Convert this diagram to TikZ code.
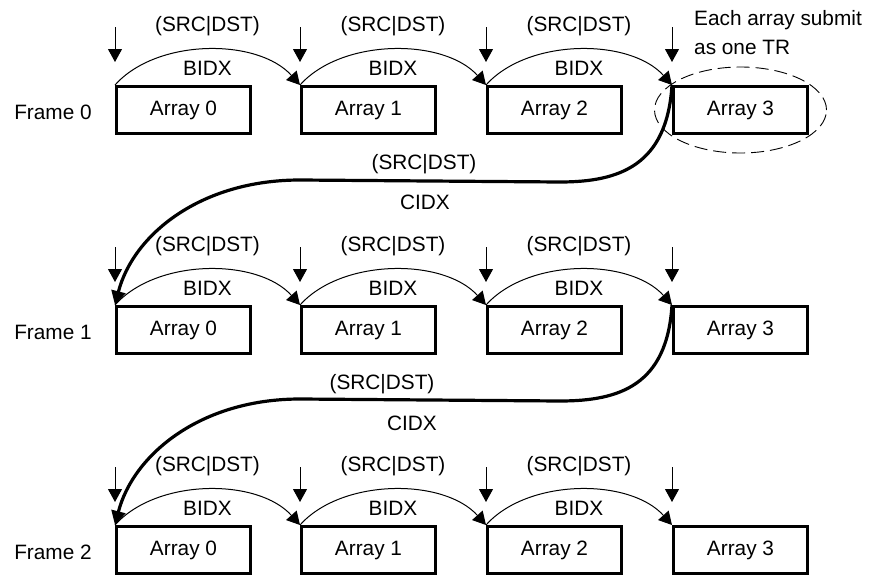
\documentclass[tikz,border=0pt]{standalone}
\usepackage{fontspec}
\setmainfont{Liberation Sans}
\usetikzlibrary{arrows.meta,calc}

\tikzset{
	arraybox/.style={draw, line width=3pt, minimum width=134pt, minimum height=47pt, inner sep=0pt},
	bidxarc/.style={line width=1pt, -{Triangle[length=13pt,width=14pt]}},
	cidxarc/.style={line width=3.2pt, -{Triangle[length=14pt,width=14pt]}},
	droparrow/.style={line width=1pt, -{Triangle[length=13pt,width=14pt]}},
	txt/.style={inner sep=0pt, anchor=base},
}

\begin{document}
\begin{tikzpicture}[x=1pt, y=-1pt, font=\fontsize{20.8}{24}\selectfont]
			%%%%% START %%%%%
			\useasboundingbox (0,0) rectangle (871,576);
			
			% frame 0
			\node[txt] (f0) at (53, 119) {Frame 0};
			\node[arraybox] (a00) at (183.5, 110) {Array 0};
			\node[arraybox] (a01) at (368.5, 110) {Array 1};
			\node[arraybox] (a02) at (554.5, 110) {Array 2};
			\node[arraybox] (a03) at (740.5, 110) {Array 3};
			
			% frame 1
			\node[txt] (f1) at (53, 339) {Frame 1};
			\node[arraybox] (a10) at (183.5, 330) {Array 0};
			\node[arraybox] (a11) at (368.5, 330) {Array 1};
			\node[arraybox] (a12) at (554.5, 330) {Array 2};
			\node[arraybox] (a13) at (740.5, 330) {Array 3};
			
			% frame 2
			\node[txt] (f2) at (53, 559) {Frame 2};
			\node[arraybox] (a20) at (183.5, 550) {Array 0};
			\node[arraybox] (a21) at (368.5, 550) {Array 1};
			\node[arraybox] (a22) at (554.5, 550) {Array 2};
			\node[arraybox] (a23) at (740.5, 550) {Array 3};
			
			% one TR
			\draw[line width=0.9pt, dash pattern=on 13pt off 6pt] (a03.center) ellipse [x radius=86pt, y radius=43pt];
			\node[txt, anchor=base west] (note1) at (694, 25) {Each array submit};
			\node[txt, anchor=base west] (note2) at (694, 54) {as one TR};
			
			% drop arrows
			\draw[droparrow] ($(a00.north west)+(0,-58)$) -- ($(a00.north west)+(0,-23)$);
			\draw[droparrow] ($(a01.north west)+(0,-58)$) -- ($(a01.north west)+(0,-23)$);
			\draw[droparrow] ($(a02.north west)+(0,-58)$) -- ($(a02.north west)+(0,-23)$);
			\draw[droparrow] ($(a03.north west)+(0,-58)$) -- ($(a03.north west)+(0,-23)$);
			\draw[droparrow] ($(a10.north west)+(0,-58)$) -- ($(a10.north west)+(0,-23)$);
			\draw[droparrow] ($(a11.north west)+(0,-58)$) -- ($(a11.north west)+(0,-23)$);
			\draw[droparrow] ($(a12.north west)+(0,-58)$) -- ($(a12.north west)+(0,-23)$);
			\draw[droparrow] ($(a13.north west)+(0,-58)$) -- ($(a13.north west)+(0,-23)$);
			\draw[droparrow] ($(a20.north west)+(0,-58)$) -- ($(a20.north west)+(0,-23)$);
			\draw[droparrow] ($(a21.north west)+(0,-58)$) -- ($(a21.north west)+(0,-23)$);
			\draw[droparrow] ($(a22.north west)+(0,-58)$) -- ($(a22.north west)+(0,-23)$);
			\draw[droparrow] ($(a23.north west)+(0,-58)$) -- ($(a23.north west)+(0,-23)$);
			
			% BIDX arcs, frame 0
			\draw[bidxarc] (a00.north west) .. controls +(42,-47) and +(-42,-47) .. (a01.north west);
			\draw[bidxarc] (a01.north west) .. controls +(42,-47) and +(-42,-47) .. (a02.north west);
			\draw[bidxarc] (a02.north west) .. controls +(42,-47) and +(-42,-47) .. (a03.north west);
			\node[txt] at ($(a00.north west)!0.5!(a01.north west)+(0,-54)$) {(SRC|DST)};
			\node[txt] at ($(a00.north west)!0.5!(a01.north west)+(0,-10)$) {BIDX};
			\node[txt] at ($(a01.north west)!0.5!(a02.north west)+(0,-54)$) {(SRC|DST)};
			\node[txt] at ($(a01.north west)!0.5!(a02.north west)+(0,-10)$) {BIDX};
			\node[txt] at ($(a02.north west)!0.5!(a03.north west)+(0,-54)$) {(SRC|DST)};
			\node[txt] at ($(a02.north west)!0.5!(a03.north west)+(0,-10)$) {BIDX};
			
			% BIDX arcs, frame 1
			\draw[bidxarc] (a10.north west) .. controls +(42,-47) and +(-42,-47) .. (a11.north west);
			\draw[bidxarc] (a11.north west) .. controls +(42,-47) and +(-42,-47) .. (a12.north west);
			\draw[bidxarc] (a12.north west) .. controls +(42,-47) and +(-42,-47) .. (a13.north west);
			\node[txt] at ($(a10.north west)!0.5!(a11.north west)+(0,-54)$) {(SRC|DST)};
			\node[txt] at ($(a10.north west)!0.5!(a11.north west)+(0,-10)$) {BIDX};
			\node[txt] at ($(a11.north west)!0.5!(a12.north west)+(0,-54)$) {(SRC|DST)};
			\node[txt] at ($(a11.north west)!0.5!(a12.north west)+(0,-10)$) {BIDX};
			\node[txt] at ($(a12.north west)!0.5!(a13.north west)+(0,-54)$) {(SRC|DST)};
			\node[txt] at ($(a12.north west)!0.5!(a13.north west)+(0,-10)$) {BIDX};
			
			% BIDX arcs, frame 2
			\draw[bidxarc] (a20.north west) .. controls +(42,-47) and +(-42,-47) .. (a21.north west);
			\draw[bidxarc] (a21.north west) .. controls +(42,-47) and +(-42,-47) .. (a22.north west);
			\draw[bidxarc] (a22.north west) .. controls +(42,-47) and +(-42,-47) .. (a23.north west);
			\node[txt] at ($(a20.north west)!0.5!(a21.north west)+(0,-54)$) {(SRC|DST)};
			\node[txt] at ($(a20.north west)!0.5!(a21.north west)+(0,-10)$) {BIDX};
			\node[txt] at ($(a21.north west)!0.5!(a22.north west)+(0,-54)$) {(SRC|DST)};
			\node[txt] at ($(a21.north west)!0.5!(a22.north west)+(0,-10)$) {BIDX};
			\node[txt] at ($(a22.north west)!0.5!(a23.north west)+(0,-54)$) {(SRC|DST)};
			\node[txt] at ($(a22.north west)!0.5!(a23.north west)+(0,-10)$) {BIDX};
			
			% CIDX, frame 0 to frame 1
			\coordinate (c0a) at (560, 182);
			\coordinate (c0b) at (300, 180);
			\draw[cidxarc] (a03.north west) .. controls +(-5,80) and +(60,0) .. (c0a) -- (c0b) .. controls +(-100,0) and +(18,-70) .. (a10.north west);
			\node[txt] at (424, 169) {(SRC|DST)};
			\node[txt] at (425, 209) {CIDX};
			
			% CIDX, frame 1 to frame 2
			\coordinate (c1a) at (560, 401);
			\coordinate (c1b) at (300, 399);
			\draw[cidxarc] (a13.north west) .. controls +(-5,80) and +(60,0) .. (c1a) -- (c1b) .. controls +(-100,0) and +(18,-70) .. (a20.north west);
			\node[txt] at (382, 389) {(SRC|DST)};
			\node[txt] at (412, 430) {CIDX};
			
			%%%%% END %%%%%
\end{tikzpicture}
\end{document}
